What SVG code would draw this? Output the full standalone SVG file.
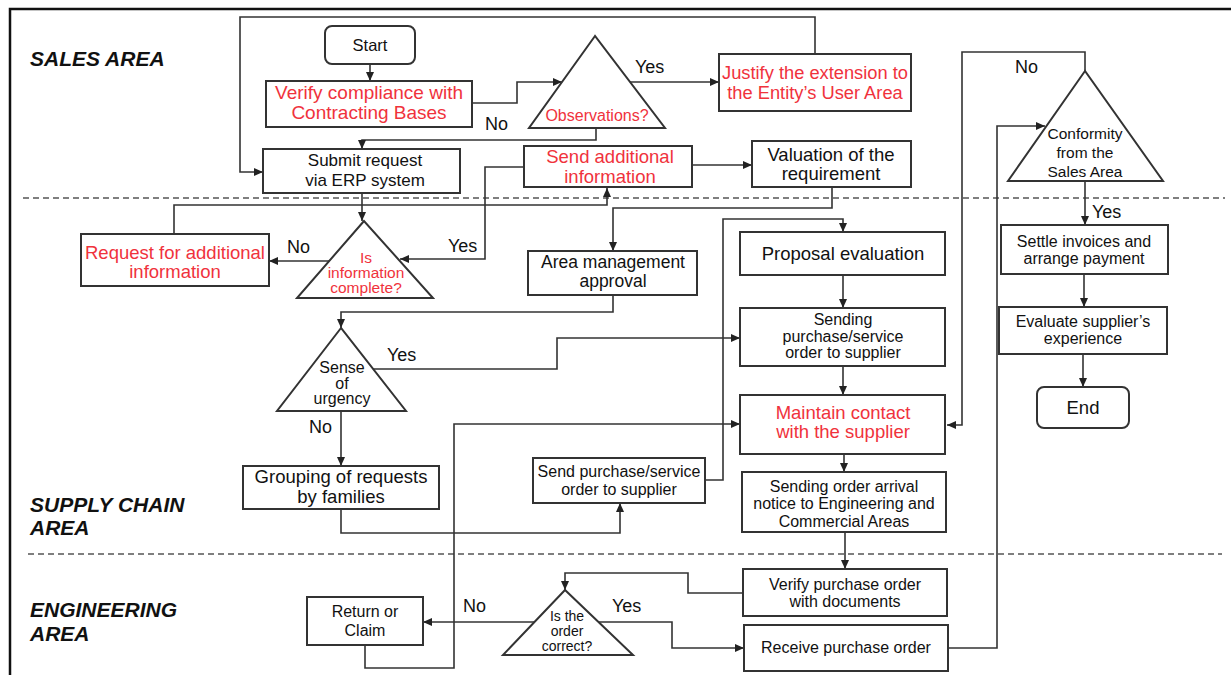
<svg xmlns="http://www.w3.org/2000/svg" width="1231" height="675" viewBox="0 0 1231 675">
<style>
.box{fill:#fff;stroke:#333;stroke-width:2}
.tri{fill:#fff;stroke:#333;stroke-width:2}
.t{font-family:"Liberation Sans",Arial,sans-serif;fill:#111;text-anchor:middle}
.r{fill:#f0323c}
.lbl{font-family:"Liberation Sans",Arial,sans-serif;fill:#111;font-size:18px}
.area{font-family:"Liberation Sans",Arial,sans-serif;font-weight:bold;font-style:italic;font-size:21px;fill:#111}
.c{fill:none;stroke:#333;stroke-width:1.6}
.a{marker-end:url(#ah)}
.dash{stroke:#555;stroke-width:1.6;stroke-dasharray:6 4;fill:none}
</style>
<defs>
<marker id="ah" markerUnits="userSpaceOnUse" markerWidth="9" markerHeight="8" refX="9" refY="4" orient="auto">
<path d="M0,0 L9,4 L0,8 z" fill="#222"/>
</marker>
</defs>
<rect width="1231" height="675" fill="#fff"/>
<path d="M10,675 V9 H1231" fill="none" stroke="#111" stroke-width="2.5"/>
<path class="dash" d="M23,198 H1225"/>
<path class="dash" d="M28,554 H1222"/>
<g id="lanes">
<text class="area" x="30" y="66">SALES AREA</text>
<text class="area" x="30" y="512">SUPPLY CHAIN</text>
<text class="area" x="30" y="535">AREA</text>
<text class="area" x="30" y="617">ENGINEERING</text>
<text class="area" x="30" y="641">AREA</text>
</g>
<g id="connectors">
<path class="c a" d="M370,64 V81"/>
<path class="c a" d="M472,103 H517 V82 H562"/>
<path class="c a" d="M630,82 H719"/>
<path class="c a" d="M596,128 V140 H362 V149"/>
<path class="c a" d="M815,54 V17 H240 V172 H263"/>
<path class="c a" d="M362,193 V221"/>
<path class="c a" d="M330,261 H269"/>
<path class="c a" d="M524,167 H485 V259 H400"/>
<path class="c a" d="M174,234 V205 H607 V188"/>
<path class="c a" d="M692,165 H752"/>
<path class="c a" d="M832,187 V208 H613 V251"/>
<path class="c a" d="M613,295 V312 H341 V328"/>
<path class="c a" d="M373,369 H557 V338 H740"/>
<path class="c a" d="M341,411 V466"/>
<path class="c a" d="M341,509 V533 H620 V503"/>
<path class="c a" d="M705,480 H723 V219 H843 V232"/>
<path class="c a" d="M843,275 V308"/>
<path class="c a" d="M843,366 V395"/>
<path class="c a" d="M844,454 V472"/>
<path class="c a" d="M845,532 V569"/>
<path class="c a" d="M743,593 H688 V573 H565 V590"/>
<path class="c a" d="M534,622 H423"/>
<path class="c a" d="M598,622 H672 V648 H744"/>
<path class="c a" d="M365,645 V668 H454 V424 H740"/>
<path class="c a" d="M948,648 H997 V126 H1045"/>
<path class="c a" d="M1085,71 V52 H962 V425 H947"/>
<path class="c a" d="M1085,181 V225"/>
<path class="c a" d="M1084,274 V307"/>
<path class="c a" d="M1083,354 V387"/>
<text class="lbl" x="635" y="73">Yes</text>
<text class="lbl" x="485" y="130">No</text>
<text class="lbl" x="448" y="252">Yes</text>
<text class="lbl" x="287" y="253">No</text>
<text class="lbl" x="387" y="361">Yes</text>
<text class="lbl" x="309" y="433">No</text>
<text class="lbl" x="463" y="612">No</text>
<text class="lbl" x="612" y="612">Yes</text>
<text class="lbl" x="1015" y="73">No</text>
<text class="lbl" x="1092" y="218">Yes</text>
</g>
<g id="start"><rect class="box" x="325" y="26" width="90" height="38" rx="7"/><text class="t" x="370" y="51" font-size="16.5">Start</text></g>
<g id="verify"><rect class="box" x="266" y="81" width="206" height="46"/><text class="t r" x="369" y="99" font-size="19">Verify compliance with</text><text class="t r" x="369" y="119" font-size="19">Contracting Bases</text></g>
<g id="observations"><polygon class="tri" points="595,36 529,128 665,128"/><text class="t r" x="597" y="121" font-size="16">Observations?</text></g>
<g id="justify"><rect class="box" x="719" y="54" width="192" height="57"/><text class="t r" x="815" y="79" font-size="18.3">Justify the extension to</text><text class="t r" x="815" y="99" font-size="18.3">the Entity’s User Area</text></g>
<g id="submit"><rect class="box" x="263" y="149" width="197" height="44"/><text class="t" x="365" y="166" font-size="17">Submit request</text><text class="t" x="365" y="186" font-size="17">via ERP system</text></g>
<g id="sendinfo"><rect class="box" x="524" y="146" width="168" height="41"/><text class="t r" x="610" y="163" font-size="18.5">Send additional</text><text class="t r" x="610" y="183" font-size="18.5">information</text></g>
<g id="valuation"><rect class="box" x="752" y="141" width="159" height="46"/><text class="t" x="831" y="161" font-size="18.5">Valuation of the</text><text class="t" x="831" y="180" font-size="18.5">requirement</text></g>
<g id="requestinfo"><rect class="box" x="81" y="234" width="188" height="52"/><text class="t r" x="175" y="259" font-size="18.5">Request for additional</text><text class="t r" x="175" y="278" font-size="18.5">information</text></g>
<g id="infocomplete"><polygon class="tri" points="364,221 297,298 433,298"/><text class="t r" x="366" y="263" font-size="15.5">Is</text><text class="t r" x="366" y="278" font-size="15.5">information</text><text class="t r" x="366" y="293" font-size="15.5">complete?</text></g>
<g id="areamgmt"><rect class="box" x="528" y="251" width="169" height="44"/><text class="t" x="613" y="268" font-size="17.5">Area management</text><text class="t" x="613" y="287" font-size="17.5">approval</text></g>
<g id="urgency"><polygon class="tri" points="341,328 277,411 406,411"/><text class="t" x="342" y="373" font-size="16">Sense</text><text class="t" x="342" y="389" font-size="16">of</text><text class="t" x="342" y="404" font-size="16">urgency</text></g>
<g id="grouping"><rect class="box" x="243" y="466" width="196" height="43"/><text class="t" x="341" y="483" font-size="18.5">Grouping of requests</text><text class="t" x="341" y="503" font-size="18.5">by families</text></g>
<g id="sendpo"><rect class="box" x="533" y="458" width="172" height="45"/><text class="t" x="619" y="477" font-size="16">Send purchase/service</text><text class="t" x="619" y="495" font-size="16">order to supplier</text></g>
<g id="proposal"><rect class="box" x="740" y="232" width="205" height="43"/><text class="t" x="843" y="260" font-size="18.5">Proposal evaluation</text></g>
<g id="sendingpo"><rect class="box" x="740" y="308" width="205" height="58"/><text class="t" x="843" y="325" font-size="16">Sending</text><text class="t" x="843" y="342" font-size="16">purchase/service</text><text class="t" x="843" y="358" font-size="16">order to supplier</text></g>
<g id="maintain"><rect class="box" x="740" y="395" width="205" height="59"/><text class="t r" x="843" y="419" font-size="18.5">Maintain contact</text><text class="t r" x="843" y="438" font-size="18.5">with the supplier</text></g>
<g id="arrival"><rect class="box" x="742" y="472" width="204" height="60"/><text class="t" x="844" y="492" font-size="16">Sending order arrival</text><text class="t" x="844" y="509" font-size="16">notice to Engineering and</text><text class="t" x="844" y="527" font-size="16">Commercial Areas</text></g>
<g id="verifypo"><rect class="box" x="743" y="569" width="204" height="47"/><text class="t" x="845" y="590" font-size="16">Verify purchase order</text><text class="t" x="845" y="607" font-size="16">with documents</text></g>
<g id="ordercorrect"><polygon class="tri" points="565,590 503,655 633,655"/><text class="t" x="567" y="621" font-size="14">Is the</text><text class="t" x="567" y="636" font-size="14">order</text><text class="t" x="567" y="651" font-size="14">correct?</text></g>
<g id="returnclaim"><rect class="box" x="307" y="597" width="116" height="48"/><text class="t" x="365" y="617" font-size="16">Return or</text><text class="t" x="365" y="636" font-size="16">Claim</text></g>
<g id="receive"><rect class="box" x="744" y="625" width="204" height="46"/><text class="t" x="846" y="653" font-size="16">Receive purchase order</text></g>
<g id="conformity"><polygon class="tri" points="1085,71 1008,181 1163,181"/><text class="t" x="1085" y="139" font-size="15.5">Conformity</text><text class="t" x="1085" y="158" font-size="15.5">from the</text><text class="t" x="1085" y="177" font-size="15.5">Sales Area</text></g>
<g id="settle"><rect class="box" x="1001" y="225" width="167" height="49"/><text class="t" x="1084" y="247" font-size="16">Settle invoices and</text><text class="t" x="1084" y="264" font-size="16">arrange payment</text></g>
<g id="evaluate"><rect class="box" x="999" y="307" width="168" height="47"/><text class="t" x="1083" y="327" font-size="16">Evaluate supplier’s</text><text class="t" x="1083" y="344" font-size="16">experience</text></g>
<g id="end"><rect class="box" x="1037" y="387" width="92" height="41" rx="7"/><text class="t" x="1083" y="414" font-size="18.5">End</text></g>
</svg>
